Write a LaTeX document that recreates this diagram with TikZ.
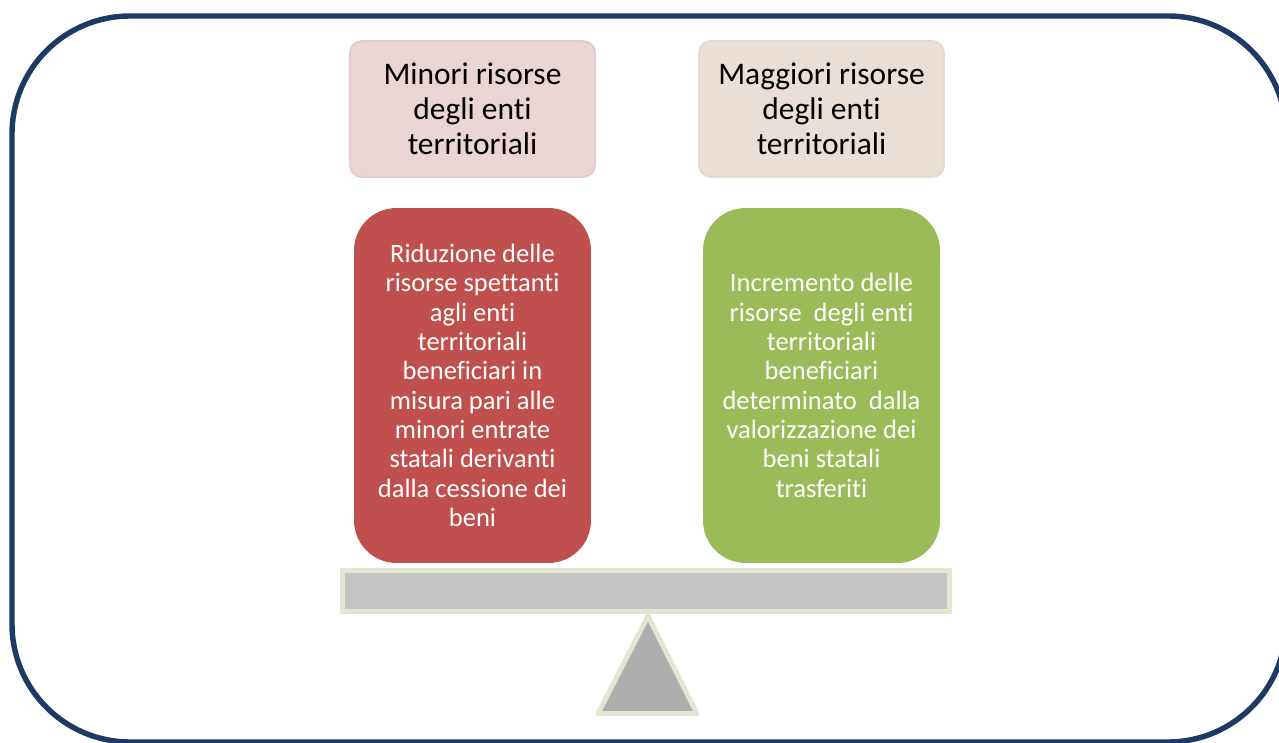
\documentclass[tikz,border=0pt]{standalone}
\usepackage{fontspec}
\setmainfont[RawFeature=-liga]{Carlito}
\definecolor{frameblue}{HTML}{1C3A63}
\definecolor{minorfill}{HTML}{EAD5D5}
\definecolor{minorline}{HTML}{E4CBCB}
\definecolor{maggiorfill}{HTML}{E9DFD6}
\definecolor{maggiorline}{HTML}{E5D9CE}
\definecolor{cutred}{HTML}{C0504D}
\definecolor{gaingreen}{HTML}{9BBB59}
\definecolor{beamgray}{HTML}{C4C4C4}
\definecolor{pivotgray}{HTML}{AEAEAE}
\definecolor{paleedge}{HTML}{E2E6D2}

\begin{document}
\begin{tikzpicture}[x=0.02cm,y=-0.02cm,
  headbox/.style={draw,line width=1.1pt,rounded corners=0.24cm,minimum width=4.9cm,minimum height=2.72cm,align=center,inner sep=0pt,font=\fontsize{17.9}{19.8}\selectfont},
  weightbox/.style={rounded corners=0.85cm,minimum width=4.74cm,minimum height=7.1cm,align=center,inner sep=0pt,text=white,font=\fontsize{15.1}{16.7}\selectfont}]
  \useasboundingbox (0,0) rectangle (1279,743);
  \draw[frameblue,line width=3.1pt,rounded corners=2.36cm] (12,16) rectangle (1286,742);
  \node[headbox,fill=minorfill,draw=minorline] (minori) at (472.5,109) {Minori risorse\\degli enti\\territoriali};
  \node[headbox,fill=maggiorfill,draw=maggiorline] (maggiori) at (821.5,109) {Maggiori risorse\\degli enti\\territoriali};
  \node[weightbox,fill=cutred] (riduzione) at (472.5,385.5) {Riduzione delle\\risorse spettanti\\agli enti\\territoriali\\beneficiari in\\misura pari alle\\minori entrate\\statali derivanti\\dalla cessione dei\\beni};
  \node[weightbox,fill=gaingreen] (incremento) at (821.5,385.5) {Incremento delle\\risorse\ \ degli enti\\territoriali\\beneficiari\\determinato\ \ dalla\\valorizzazione dei\\beni statali\\trasferiti};
  \node[draw=paleedge,fill=beamgray,line width=2.8pt,minimum width=12.14cm,minimum height=0.82cm,inner sep=0pt] (beam) at (646,591) {};
  \draw[paleedge,fill=pivotgray,line width=2.8pt,line join=round] (648,616) -- (697,713.5) -- (598,713.5) -- cycle;
\end{tikzpicture}
\end{document}
